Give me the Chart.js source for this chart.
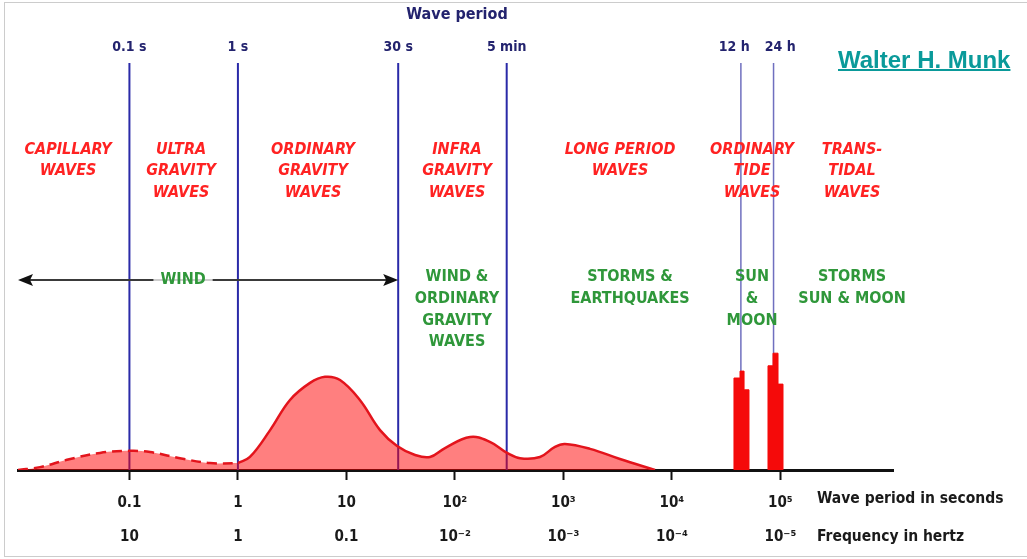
<!DOCTYPE html>
<html>
<head>
<meta charset="utf-8">
<title>Ocean wave spectrum</title>
<script src="https://cdn.jsdelivr.net/npm/chart.js@4.4.0/dist/chart.umd.min.js"></script>
<style>
  body { margin: 0; background: #fff; }
  #wrap { position: relative; width: 1027px; height: 559px; }
  #munk {
    position: absolute; left: 838px; top: 48px;
    font: bold 24px "Liberation Sans", Arial, sans-serif; line-height: 24px;
    color: #0a9a9a; text-decoration: underline; text-decoration-thickness: 2px;
  }
</style>
</head>
<body>
<div id="wrap">
  <canvas id="waveChart" width="1027" height="559"></canvas>
  <span id="munk">Walter H. Munk</span>
</div>
<script>
// Spectrum: wave period (s) -> relative energy (0-100)
const dashedPeriods = [0.0094, 0.015, 0.0266, 0.0536, 0.1, 0.155, 0.292, 0.553, 1];
const dashedEnergy = [0, 0.7, 2.5, 4.2, 4.7, 4.4, 2.9, 1.7, 1.7];
const solidPeriods = [1, 1.29, 1.98, 3.02, 4.62, 6.35, 8.73, 13.3, 20.4, 29.3, 42.9, 58.9, 81, 138, 210, 302, 398, 608, 836, 1033, 1758, 3320, 6980];
const solidEnergy = [1.7, 3.2, 9.8, 17.2, 21.4, 22.9, 22.1, 17.2, 9.8, 5.9, 3.7, 3.2, 5.4, 8.1, 6.9, 4.2, 2.9, 3.2, 5.7, 6.4, 5.2, 2.7, 0];

// Tidal lines: bar edges (s) and bar heights
const tide12Edges = [37300, 42400, 46200, 51300];
const tide12Energy = [22.6, 24.3, 19.7];
const tide24Edges = [76800, 85400, 95000, 105600];
const tide24Energy = [25.6, 28.7, 21.1];

// Vertical period markers
const markerPeriods = [0.1, 1, 30, 300, 43200, 86400];
const markerLabels = ['0.1 s', '1 s', '30 s', '5 min', '12 h', '24 h'];

// Axis ticks
const tickPeriods = [0.1, 1, 10, 100, 1000, 10000, 100000];
const periodLabels = ['0.1', '1', '10', '10²', '10³', '10⁴', '10⁵'];
const freqLabels = ['10', '1', '0.1', '10⁻²', '10⁻³', '10⁻⁴', '10⁻⁵'];

// Wave classes (red) and generating forces (green), centred on a period
const waveTypes = [
    { at: 0.0272, lines: ['CAPILLARY', 'WAVES'] },
    { at: 0.299, lines: ['ULTRA', 'GRAVITY', 'WAVES'] },
    { at: 4.92, lines: ['ORDINARY', 'GRAVITY', 'WAVES'] },
    { at: 104.5, lines: ['INFRA', 'GRAVITY', 'WAVES'] },
    { at: 3325, lines: ['LONG PERIOD', 'WAVES'] },
    { at: 54700, lines: ['ORDINARY', 'TIDE', 'WAVES'] },
    { at: 457000, lines: ['TRANS-', 'TIDAL', 'WAVES'] }
];
const forces = [
    { at: 0.312, lines: ['WIND'] },
    { at: 104.5, lines: ['WIND &', 'ORDINARY', 'GRAVITY', 'WAVES'] },
    { at: 4110, lines: ['STORMS &', 'EARTHQUAKES'] },
    { at: 54700, lines: ['SUN', '&', 'MOON'] },
    { at: 457000, lines: ['STORMS', 'SUN & MOON'] }
];

// Wind arrow span
const windFrom = 0.0094;
const windTo = 30;
const windLevel = 46.7;

const FONT = '"DejaVu Sans Condensed", "DejaVu Sans", sans-serif';
const NAVY = '#23236e';
const RED_TEXT = '#ff2222';
const GREEN_TEXT = '#2f973a';
const FILL = 'rgba(255, 0, 0, 0.5)';
const LINE_RED = '#e3141c';

function toPoints(xs, ys) {
    return xs.map((x, i) => ({ x: x, y: ys[i] }));
}

// Stepped outline for a group of bars
function barPoints(edges, heights) {
    const pts = [{ x: edges[0], y: 0 }];
    heights.forEach((h, i) => pts.push({ x: edges[i], y: h }));
    pts.push({ x: edges[edges.length - 1], y: 0 });
    return pts;
}

const markerSets = markerPeriods.map((t, i) => ({
    data: [{ x: t, y: 0 }, { x: t, y: 100 }],
    borderColor: i >= 4 ? '#6f6fbf' : '#2a2aa8',
    borderWidth: i >= 4 ? 1.5 : 2,
    pointRadius: 0,
    fill: false,
    order: 3
}));

const spectrumSets = [
    {
        data: toPoints(dashedPeriods, dashedEnergy),
        borderColor: LINE_RED,
        borderWidth: 2.5,
        borderDash: [10, 6],
        backgroundColor: FILL,
        fill: 'origin',
        tension: 0.4,
        pointRadius: 0,
        order: 2
    },
    {
        data: toPoints(solidPeriods, solidEnergy),
        borderColor: LINE_RED,
        borderWidth: 2.5,
        backgroundColor: FILL,
        fill: 'origin',
        tension: 0.4,
        pointRadius: 0,
        order: 2
    }
];

const tideSets = [[tide12Edges, tide12Energy], [tide24Edges, tide24Energy]].map(([e, h]) => ({
    data: barPoints(e, h),
    stepped: true,
    borderColor: '#f50a0a',
    borderWidth: 1,
    backgroundColor: '#f50a0a',
    fill: 'origin',
    pointRadius: 0,
    order: 1
}));

function drawLines(ctx, lines, x, y0, step) {
    lines.forEach((line, i) => ctx.fillText(line, x, y0 + i * step));
}

const annotations = {
    id: 'annotations',
    beforeDraw(chart) {
        const ctx = chart.ctx;
        ctx.save();
        ctx.strokeStyle = '#cccccc';
        ctx.lineWidth = 1;
        ctx.strokeRect(4.5, 2.5, 1040, 554);
        ctx.restore();
    },
    afterDraw(chart) {
        const ctx = chart.ctx;
        const xs = chart.scales.x;
        const ys = chart.scales.y;
        ctx.save();
        ctx.textAlign = 'center';
        ctx.textBaseline = 'middle';

        // title and marker labels
        ctx.fillStyle = NAVY;
        ctx.font = 'bold 16px ' + FONT;
        ctx.fillText('Wave period', 457, 15);
        ctx.font = 'bold 14px ' + FONT;
        const px = markerPeriods.map(t => xs.getPixelForValue(t));
        const lx = px.slice();
        for (let i = 1; i < lx.length; i++) {
            if (lx[i] - lx[i - 1] < 46) {
                const mid = (px[i] + px[i - 1]) / 2;
                lx[i - 1] = mid - 23;
                lx[i] = mid + 23;
            }
        }
        markerLabels.forEach((lab, i) => ctx.fillText(lab, lx[i], 47));

        // wind arrow
        const ax0 = xs.getPixelForValue(windFrom);
        const ax1 = xs.getPixelForValue(windTo);
        const ay = ys.getPixelForValue(windLevel);
        ctx.strokeStyle = '#3a3a3a';
        ctx.lineWidth = 2;
        ctx.beginPath();
        ctx.moveTo(ax0 + 10, ay);
        ctx.lineTo(ax1 - 10, ay);
        ctx.stroke();
        ctx.fillStyle = '#111';
        ctx.beginPath();
        ctx.moveTo(ax0, ay);
        ctx.lineTo(ax0 + 15, ay - 6);
        ctx.lineTo(ax0 + 12, ay);
        ctx.lineTo(ax0 + 15, ay + 6);
        ctx.closePath();
        ctx.fill();
        ctx.beginPath();
        ctx.moveTo(ax1, ay);
        ctx.lineTo(ax1 - 15, ay - 6);
        ctx.lineTo(ax1 - 12, ay);
        ctx.lineTo(ax1 - 15, ay + 6);
        ctx.closePath();
        ctx.fill();

        // wave classes
        ctx.fillStyle = RED_TEXT;
        ctx.font = 'italic bold 16px ' + FONT;
        waveTypes.forEach(w => drawLines(ctx, w.lines, xs.getPixelForValue(w.at), 150, 21.2));

        // generating forces
        ctx.font = 'bold 16px ' + FONT;
        forces.forEach(f => {
            const x = xs.getPixelForValue(f.at);
            if (f.lines.length === 1) {
                const w = ctx.measureText(f.lines[0]).width + 14;
                ctx.fillStyle = 'rgba(255, 255, 255, 0.75)';
                ctx.fillRect(x - w / 2, ay - 4, w, 8);
            }
            ctx.fillStyle = GREEN_TEXT;
            drawLines(ctx, f.lines, x, f.lines.length === 1 ? ay : 277, 21.7);
        });

        // axis titles
        ctx.fillStyle = '#1a1a1a';
        ctx.textAlign = 'left';
        ctx.font = 'bold 15.5px ' + FONT;
        ctx.fillText('Wave period in seconds', 817, 499);
        ctx.fillText('Frequency in hertz', 817, 537);
        ctx.restore();
    }
};

const ctx = document.getElementById('waveChart').getContext('2d');
new Chart(ctx, {
    type: 'line',
    data: { datasets: [...tideSets, ...spectrumSets, ...markerSets] },
    options: {
        responsive: false,
        animation: false,
        events: [],
        layout: { padding: { left: 18, right: 134, top: 63, bottom: 0 } },
        plugins: {
            legend: { display: false },
            tooltip: { enabled: false }
        },
        scales: {
            x: {
                type: 'logarithmic',
                min: 0.0094,
                max: 1.09e6,
                z: 1,
                afterBuildTicks: scale => {
                    scale.ticks = tickPeriods.map(v => ({ value: v }));
                },
                afterFit: scale => {
                    scale.height = 89;
                },
                grid: {
                    drawOnChartArea: false,
                    drawTicks: true,
                    tickLength: 10,
                    tickWidth: 2,
                    tickColor: '#111'
                },
                border: { display: true, color: '#111', width: 3 },
                ticks: {
                    autoSkip: false,
                    maxRotation: 0,
                    padding: 6,
                    color: '#1a1a1a',
                    font: { family: FONT, size: 15, weight: 'bold', lineHeight: 2.27 },
                    callback: (value, index) => [periodLabels[index], freqLabels[index]]
                }
            },
            y: { display: false, min: 0, max: 100 }
        }
    },
    plugins: [annotations]
});
</script>
</body>
</html>
